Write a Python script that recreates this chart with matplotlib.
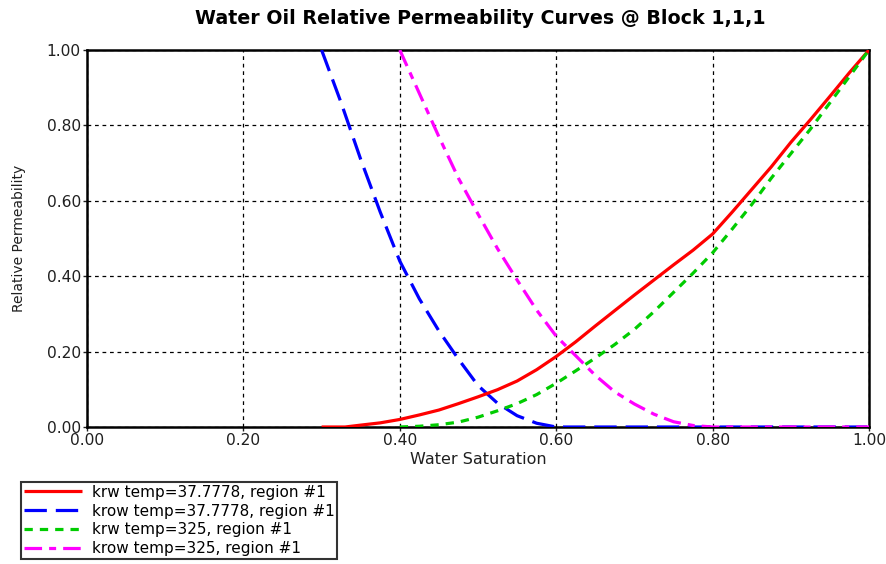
import numpy as np
import matplotlib
matplotlib.use('Agg')
import matplotlib.pyplot as plt

plt.rcParams['font.family'] = ['DejaVu Sans']

# krw / krow curves
sw_krw1 = [0.30, 0.33, 0.35, 0.375, 0.40, 0.425, 0.45, 0.475, 0.50, 0.525, 0.55,
           0.575, 0.60, 0.625, 0.65, 0.675, 0.70, 0.725, 0.75, 0.775, 0.80,
           0.825, 0.85, 0.875, 0.90, 0.925, 0.95, 0.975, 1.00]
krw1 = [0.0, 0.0, 0.005, 0.011, 0.02, 0.032, 0.045, 0.062, 0.08, 0.099, 0.122,
        0.152, 0.187, 0.226, 0.268, 0.309, 0.35, 0.39, 0.43, 0.469, 0.512,
        0.57, 0.63, 0.69, 0.755, 0.815, 0.877, 0.94, 1.0]

sw_krow1 = [0.30, 0.325, 0.35, 0.375, 0.40, 0.425, 0.45, 0.475, 0.50, 0.525,
            0.55, 0.575, 0.60, 0.70, 0.80, 0.90, 1.00]
krow1 = [1.0, 0.86, 0.71, 0.57, 0.44, 0.34, 0.255, 0.18, 0.11, 0.063,
         0.03, 0.01, 0.0, 0.0, 0.0, 0.0, 0.0]

sw_krw2 = [0.40, 0.425, 0.45, 0.475, 0.50, 0.525, 0.55, 0.575, 0.60, 0.625,
           0.65, 0.675, 0.70, 0.725, 0.75, 0.775, 0.80, 0.825, 0.85, 0.875,
           0.90, 0.925, 0.95, 0.975, 1.00]
krw2 = [0.0, 0.002, 0.006, 0.013, 0.026, 0.043, 0.062, 0.086, 0.116, 0.149,
        0.183, 0.219, 0.259, 0.306, 0.357, 0.408, 0.462, 0.525, 0.59, 0.66,
        0.725, 0.79, 0.86, 0.93, 1.0]

sw_krow2 = [0.40, 0.425, 0.45, 0.475, 0.50, 0.525, 0.55, 0.575, 0.60, 0.625,
            0.65, 0.675, 0.70, 0.725, 0.75, 0.775, 0.80, 0.90, 1.00]
krow2 = [1.0, 0.885, 0.77, 0.66, 0.565, 0.473, 0.39, 0.31, 0.241, 0.189,
         0.137, 0.093, 0.061, 0.034, 0.014, 0.004, 0.0, 0.0, 0.0]

labels = ['krw temp=37.7778, region #1', 'krow temp=37.7778, region #1',
          'krw temp=325, region #1', 'krow temp=325, region #1']
ticks = [0.0, 0.2, 0.4, 0.6, 0.8, 1.0]

fig = plt.figure(figsize=(8.86, 5.64), dpi=100)
ax = fig.add_axes([0.0982, 0.2429, 0.8826, 0.6684])

lw = 2.3
l1, = ax.plot(sw_krw1, krw1, color='#ff0000', lw=lw, solid_capstyle='butt', zorder=5)
l2, = ax.plot(sw_krow1, krow1, color='#0000ff', lw=lw, dashes=(7, 2.8), zorder=4)
l3, = ax.plot(sw_krw2, krw2, color='#00cc00', lw=lw, dashes=(2.6, 2.2), zorder=5)
l4, = ax.plot(sw_krow2, krow2, color='#ff00ff', lw=lw, dashes=(5.5, 2.2, 2.2, 2.2), zorder=5)

ax.set_xlim(0, 1)
ax.set_ylim(0, 1)
ax.set_xticks(ticks)
ax.set_yticks(ticks)
ax.set_xticklabels([f'{t:.2f}' for t in ticks])
ax.set_yticklabels([f'{t:.2f}' for t in ticks])
ax.tick_params(labelsize=11.2, length=3, width=1, pad=1.5, colors='#202020')
ax.grid(True, color='black', linestyle=(0, (3, 3)), linewidth=0.9)
for s in ax.spines.values():
    s.set_linewidth(1.8)
    s.set_zorder(3)

ax.set_xlabel('Water Saturation', fontsize=11.5, labelpad=3, color='#202020')
ax.set_ylabel('Relative Permeability', fontsize=10, labelpad=15, color='#202020')
fig.text(0.542, 0.968, 'Water Oil Relative Permeability Curves @ Block 1,1,1',
         ha='center', va='center', fontsize=13.7, fontweight='bold')

leg = fig.legend([l1, l2, l3, l4], labels, loc='upper left',
                 bbox_to_anchor=(0.024, 0.146), fontsize=11, frameon=True,
                 fancybox=False, borderpad=0.2, labelspacing=0.25,
                 handlelength=3.8, handletextpad=0.6, borderaxespad=0)
leg.get_frame().set_edgecolor('black')
leg.get_frame().set_linewidth(1.5)

fig.savefig('out.png', dpi=100)
